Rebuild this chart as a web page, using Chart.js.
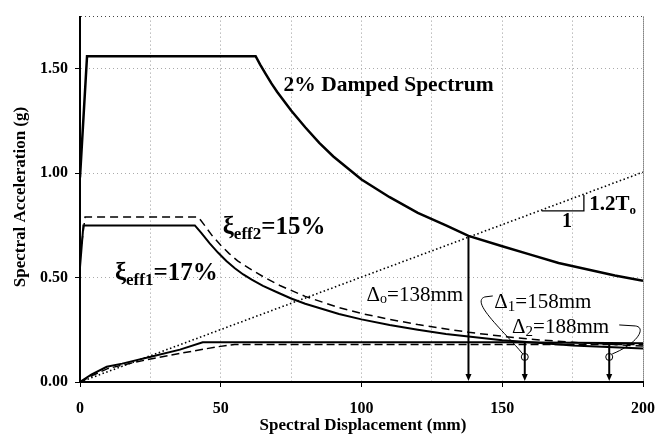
<!DOCTYPE html>
<html>
<head>
<meta charset="utf-8">
<script src="https://cdn.jsdelivr.net/npm/chart.js@4.4.1/dist/chart.umd.min.js"></script>
<style>
  html, body { margin: 0; padding: 0; background: #fff; }
</style>
</head>
<body>
<canvas id="adrs" width="667" height="436"></canvas>
<script>
// 2% damped spectrum
const spec2Disp = [0, 2.5, 62.4, 64, 66, 68, 70, 75, 80, 85, 90, 100, 110, 120, 130, 138, 150, 160, 170, 180, 190, 200]
const spec2Acc  = [0.98, 1.56, 1.56, 1.52, 1.475, 1.43, 1.39, 1.30, 1.22, 1.145, 1.08, 0.97, 0.885, 0.81, 0.75, 0.70, 0.65, 0.61, 0.57, 0.54, 0.51, 0.485]

// demand at xi_eff1 = 17% (solid)
const eff1Disp = [0, 1.2, 40.8, 43, 46, 49, 52, 55, 58, 61, 65, 70, 75, 80, 92, 100, 110, 120, 130, 138, 150, 160, 175, 200]
const eff1Acc  = [0.55, 0.75, 0.75, 0.715, 0.665, 0.62, 0.58, 0.545, 0.515, 0.49, 0.46, 0.43, 0.40, 0.375, 0.326, 0.30, 0.273, 0.25, 0.23, 0.218, 0.20, 0.19, 0.175, 0.16]

// demand at xi_eff2 = 15% (dashed)
const eff2Disp = [0, 1.8, 42, 44, 47, 50, 53, 56, 60, 65, 71, 80, 92, 100, 110, 120, 138, 150, 160, 175, 200]
const eff2Acc  = [0.60, 0.79, 0.79, 0.755, 0.70, 0.655, 0.615, 0.58, 0.545, 0.505, 0.462, 0.41, 0.356, 0.328, 0.30, 0.275, 0.238, 0.219, 0.205, 0.19, 0.172]

// capacity curves
const capADisp = [0, 4, 9.5, 15, 25.5, 35.5, 43.6, 100, 150, 200]
const capAAcc  = [0, 0.035, 0.073, 0.088, 0.122, 0.155, 0.19, 0.19, 0.19, 0.185]
const capBDisp = [0, 5, 10, 18, 26, 35.5, 48.5, 55, 100, 200]
const capBAcc  = [0, 0.035, 0.065, 0.09, 0.113, 0.137, 0.168, 0.18, 0.18, 0.18]

// secant line, slope 1.2T0
const secantDisp = [0, 200]
const secantAcc  = [0, 1.005]
const slopeDisp = [164, 179, 179]
const slopeAcc  = [0.82, 0.82, 0.895]

// displacement demands (mm) and where the drop lines start
const deltaDisp = [138, 158, 188]
const deltaTop  = [0.70, 0.19, 0.185]
const markerAcc = [0.12, 0.12]

const xTicks = [0, 50, 100, 150, 200]
const yTicks = [0, 0.5, 1.0, 1.5]

const serif = "'Liberation Serif', 'Times New Roman', serif"

const pts = (xs, ys) => xs.map((v, i) => ({ x: v, y: ys[i] }))
const isMajorY = v => yTicks.some(t => Math.abs(t - v) < 1e-6)

function rich(ctx, x, y, parts){
    let cx = x
    parts.forEach(p => {
        ctx.font = p.font
        ctx.fillText(p.t, cx, y + (p.dy || 0))
        cx += ctx.measureText(p.t).width
    })
    return cx
}

const annotate = {
    id: 'annotate',
    afterDatasetsDraw(chart){
        const { ctx, scales: { x, y } } = chart
        const X = v => x.getPixelForValue(v)
        const Y = v => y.getPixelForValue(v)
        ctx.save()
        ctx.strokeStyle = '#000'
        ctx.fillStyle = '#000'

        // drop lines with arrow heads
        ctx.lineWidth = 2
        deltaDisp.forEach((d, i) => {
            const px = X(d), bot = Y(0)
            ctx.beginPath()
            ctx.moveTo(px, Y(deltaTop[i]))
            ctx.lineTo(px, bot - 6)
            ctx.stroke()
            ctx.beginPath()
            ctx.moveTo(px - 3, bot - 8)
            ctx.lineTo(px + 3, bot - 8)
            ctx.lineTo(px, bot - 1)
            ctx.closePath()
            ctx.fill()
        })

        // leader lines to the delta labels
        ctx.lineWidth = 1
        const c1x = X(deltaDisp[1]), c2x = X(deltaDisp[2]), cy = Y(markerAcc[0])
        ctx.beginPath()
        ctx.moveTo(c1x - 2, cy - 3)
        ctx.bezierCurveTo(c1x - 20, cy - 25, c1x - 55, cy - 55, c1x - 40, cy - 60)
        ctx.lineTo(c1x - 32, cy - 61)
        ctx.stroke()
        ctx.beginPath()
        ctx.moveTo(c2x + 10, cy - 32)
        ctx.lineTo(c2x + 26, cy - 31)
        ctx.bezierCurveTo(c2x + 37, cy - 30, c2x + 30, cy - 14, c2x + 3, cy - 3)
        ctx.stroke()

        // text
        ctx.textBaseline = 'alphabetic'
        ctx.textAlign = 'left'
        ctx.font = 'bold 21.5px ' + serif
        ctx.fillText('2% Damped Spectrum', X(72.3), Y(1.396))

        rich(ctx, X(50.7), Y(0.708), [
            { t: 'ξ', font: 'bold 25px ' + serif },
            { t: 'eff2', font: 'bold 17px ' + serif, dy: 5 },
            { t: '=15%', font: 'bold 25px ' + serif }
        ])
        rich(ctx, X(12.4), Y(0.49), [
            { t: 'ξ', font: 'bold 25px ' + serif },
            { t: 'eff1', font: 'bold 17px ' + serif, dy: 5 },
            { t: '=17%', font: 'bold 25px ' + serif }
        ])

        rich(ctx, X(101.8), Y(0.387), [
            { t: 'Δ', font: '21px ' + serif },
            { t: 'o', font: '14px ' + serif, dy: 2 },
            { t: '=138mm', font: '21px ' + serif }
        ])
        rich(ctx, X(147.2), Y(0.354), [
            { t: 'Δ', font: '21px ' + serif },
            { t: '1', font: '15px ' + serif, dy: 3 },
            { t: '=158mm', font: '21px ' + serif }
        ])
        rich(ctx, X(153.5), Y(0.236), [
            { t: 'Δ', font: '21px ' + serif },
            { t: '2', font: '15px ' + serif, dy: 3 },
            { t: '=188mm', font: '21px ' + serif }
        ])

        ctx.font = 'bold 20px ' + serif
        ctx.textAlign = 'center'
        ctx.fillText('1', X(173), Y(0.74))
        ctx.textAlign = 'left'
        rich(ctx, X(180.9), Y(0.825), [
            { t: '1.2T', font: 'bold 21px ' + serif },
            { t: 'o', font: 'bold 13px ' + serif, dy: 4 }
        ])

        // axis titles
        ctx.textAlign = 'center'
        ctx.textBaseline = 'middle'
        ctx.font = 'bold 17px ' + serif
        ctx.fillText('Spectral Displacement (mm)', 363, 426)
        ctx.translate(21, 197)
        ctx.rotate(-Math.PI / 2)
        ctx.font = 'bold 17px ' + serif
        ctx.fillText('Spectral Acceleration (g)', 0, 0)
        ctx.restore()
    }
}

const line = (data, width, dash) => ({
    data,
    borderColor: '#000',
    borderWidth: width,
    borderDash: dash || [],
    pointRadius: 0,
    fill: false,
    tension: 0
})

const datasets = [
    line(pts(spec2Disp, spec2Acc), 2.5),
    line(pts(eff1Disp, eff1Acc), 2),
    line(pts(eff2Disp, eff2Acc), 1.5, [8, 5]),
    line(pts(capADisp, capAAcc), 2),
    line(pts(capBDisp, capBAcc), 1.5, [8, 4]),
    line(pts(secantDisp, secantAcc), 1.6, [1.5, 2.5]),
    line(pts(slopeDisp, slopeAcc), 1.3),
    {
        data: pts(deltaDisp.slice(1), markerAcc),
        showLine: false,
        pointRadius: 3.5,
        pointBorderWidth: 1,
        pointBorderColor: '#000',
        pointBackgroundColor: 'rgba(255,255,255,0)'
    }
]

new Chart(document.getElementById('adrs'), {
    type: 'line',
    data: { datasets },
    options: {
        responsive: false,
        animation: false,
        layout: { padding: { top: 11, right: 23, left: 0, bottom: 0 } },
        plugins: { legend: { display: false }, tooltip: { enabled: false } },
        scales: {
            x: {
                type: 'linear',
                min: 0,
                max: 200,
                afterFit: s => { s.height = 54 },
                ticks: {
                    stepSize: 25,
                    autoSkip: false,
                    maxRotation: 0,
                    padding: 12,
                    color: '#000',
                    font: { family: serif, size: 16, weight: 'bold' },
                    callback: v => xTicks.includes(v) ? v : ''
                },
                grid: {
                    color: c => !c.tick || c.tick.value === 0 ? 'rgba(0,0,0,0)' : c.tick.value === 200 ? '#333' : '#999',
                    tickColor: c => c.tick && xTicks.includes(c.tick.value) ? '#000' : 'rgba(0,0,0,0)',
                    tickLength: 5,
                    lineWidth: 1
                },
                border: {
                    color: '#000',
                    width: 2,
                    dash: c => c.tick && c.tick.value === 200 ? [1, 1] : [1, 3]
                }
            },
            y: {
                min: 0,
                max: 1.75,
                afterFit: s => { s.width = 80 },
                ticks: {
                    stepSize: 0.25,
                    autoSkip: false,
                    padding: 7,
                    color: '#000',
                    font: { family: serif, size: 16, weight: 'bold' },
                    callback: v => isMajorY(v) ? v.toFixed(2) : ''
                },
                grid: {
                    color: c => {
                        if (!c.tick || c.tick.value === 0) return 'rgba(0,0,0,0)'
                        if (Math.abs(c.tick.value - 1.75) < 1e-6) return '#444'
                        return isMajorY(c.tick.value) ? '#aaa' : 'rgba(0,0,0,0)'
                    },
                    tickColor: c => c.tick && isMajorY(c.tick.value) ? '#000' : 'rgba(0,0,0,0)',
                    tickLength: 5,
                    lineWidth: 1
                },
                border: { color: '#000', width: 2, dash: [1, 3] }
            }
        }
    },
    plugins: [annotate]
})
</script>
</body>
</html>
